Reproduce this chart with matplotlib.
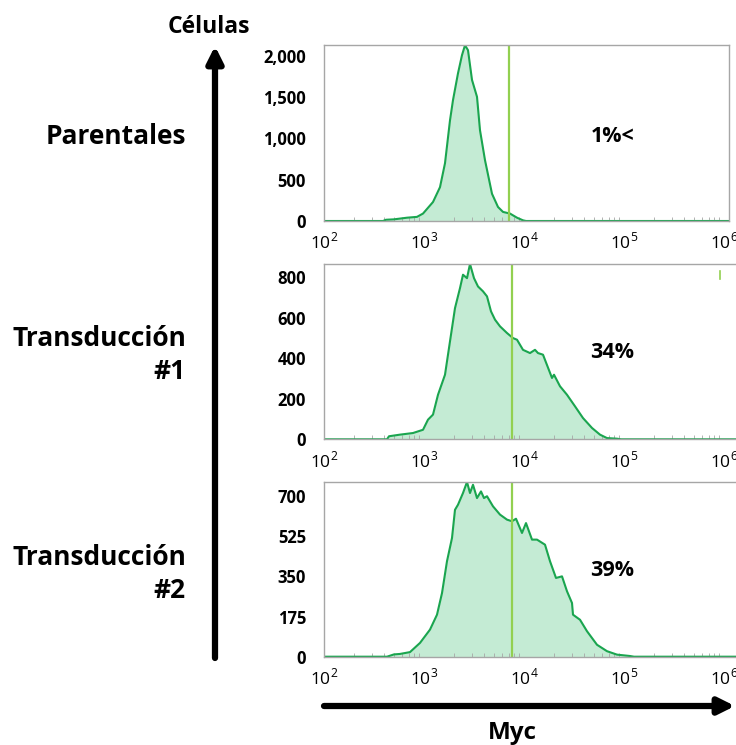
import matplotlib.pyplot as plt
import numpy as np

plt.rcParams['font.family'] = ['Open Sans', 'DejaVu Sans']
plt.rcParams['mathtext.fontset'] = 'custom'
plt.rcParams['mathtext.rm'] = 'Open Sans'
plt.rcParams['mathtext.bf'] = 'Open Sans:bold'

LINE = '#1aa54f'
FILL = '#c4ebd4'
GATE = '#92d050'
FRAME = '#a6a6a6'

# histogramas de Myc (log10 de la intensidad, número de células)
parental_log = [2.0, 2.59, 2.62, 2.7, 2.83, 2.93, 2.99, 3.09, 3.16, 3.21, 3.26, 3.29, 3.34,
                3.38, 3.41, 3.44, 3.48, 3.53, 3.56, 3.61, 3.68, 3.74, 3.79, 3.86, 3.93,
                3.99, 4.02, 6.1]
parental_cnt = [0, 0, 15, 20, 40, 50, 90, 230, 410, 700, 1220, 1465, 1790,
                2010, 2130, 2070, 1710, 1505, 1100, 737, 330, 170, 110, 90, 40,
                8, 0, 0]

trans1_log = [2.0, 2.63, 2.65, 2.76, 2.89, 2.99, 3.04, 3.09, 3.14, 3.21, 3.26, 3.31, 3.36,
              3.39, 3.43, 3.46, 3.5, 3.54, 3.59, 3.63, 3.67, 3.71, 3.76, 3.83, 3.89,
              3.93, 3.99, 4.06, 4.11, 4.14, 4.19, 4.28, 4.3, 4.36, 4.43, 4.51, 4.59,
              4.68, 4.76, 4.83, 4.93, 4.97, 6.2]
trans1_cnt = [0, 0, 15, 23, 31, 47, 97, 122, 220, 319, 484, 648, 747,
              813, 796, 866, 796, 755, 731, 706, 632, 591, 558, 525, 500,
              492, 442, 426, 442, 426, 418, 303, 319, 262, 220, 163, 105,
              56, 23, 6, 3, 0, 0]

trans2_log = [2.0, 2.63, 2.7, 2.76, 2.86, 2.96, 3.06, 3.13, 3.18, 3.23, 3.28, 3.31, 3.34,
              3.39, 3.43, 3.46, 3.49, 3.53, 3.57, 3.6, 3.63, 3.69, 3.76, 3.83, 3.88,
              3.92, 3.98, 4.02, 4.08, 4.13, 4.21, 4.26, 4.32, 4.38, 4.43, 4.48, 4.49,
              4.56, 4.63, 4.73, 4.83, 4.93, 5.06, 5.1, 6.2]
trans2_cnt = [0, 0, 10, 12, 20, 60, 118, 183, 277, 416, 517, 640, 662,
              713, 761, 713, 749, 691, 720, 691, 699, 655, 619, 597, 590,
              601, 539, 582, 510, 510, 488, 416, 343, 350, 285, 234, 183,
              161, 111, 52, 24, 9, 3, 0, 0]

gates = [7030, 7640, 7640]
percents = ['1%<', '34%', '39%']
y_max = [2133, 866, 761]
y_ticks = [[0, 500, 1000, 1500, 2000], [0, 200, 400, 600, 800], [0, 175, 350, 525, 700]]
row_labels = ['Parentales', 'Transducción\n#1', 'Transducción\n#2']

# marca suelta en el segundo histograma
stray_x = [9.1e5, 9.1e5]
stray_y = [790, 830]

W, H = 736, 745
fig = plt.figure(figsize=(W / 100, H / 100), dpi=100)

# capa en píxeles para flechas y rótulos, por encima de los paneles
bg = fig.add_axes([0, 0, 1, 1])
bg.set_xlim(0, W)
bg.set_ylim(H, 0)
bg.axis('off')
bg.set_zorder(10)

panels = [(324, 45, 729, 221), (324, 264, 740, 439.3), (324, 482, 740, 656.7)]
series = [(parental_log, parental_cnt), (trans1_log, trans1_cnt), (trans2_log, trans2_cnt)]
pct_pos = [(613, 137), (612, 353), (612, 570)]

for i, (x0, y0, x1, y1) in enumerate(panels):
    ax = fig.add_axes([x0 / W, 1 - y1 / H, (x1 - x0) / W, (y1 - y0) / H])
    lx, cnt = series[i]
    x = 10 ** np.array(lx)
    ax.fill_between(x, cnt, 0, color=FILL, lw=0)
    ax.plot(x, cnt, color=LINE, lw=1.5)
    ax.axvline(gates[i], color=GATE, lw=1.6)
    ax.set_xscale('log')
    ax.set_xlim(1e2, 10 ** (2 + (x1 - x0) / 100))
    ax.set_ylim(0, y_max[i])
    ax.set_xticks([1e2, 1e3, 1e4, 1e5, 1e6])
    ax.set_xticklabels([r'$10^{%d}$' % e for e in range(2, 7)], fontsize=12.5)
    ax.set_yticks(y_ticks[i])
    ax.set_yticklabels(['{:,}'.format(v) for v in y_ticks[i]], fontsize=12, fontweight='bold')
    ax.tick_params(axis='x', which='major', length=0, pad=8)
    ax.tick_params(axis='y', which='major', length=0, pad=13)
    ax.tick_params(axis='x', which='minor', direction='in', length=3, color=FRAME, width=0.6)
    for s in ax.spines.values():
        s.set_color(FRAME)
        s.set_linewidth(1)
    if i == 1:
        ax.plot(stray_x, stray_y, color=GATE, lw=1.2)
    bg.text(*pct_pos[i], percents[i], ha='center', va='center', fontsize=15.5, fontweight='bold')

# rótulos de cada fila
label_y = [137, 355, 574]
for lab, yy in zip(row_labels, label_y):
    bg.text(186, yy, lab, ha='right', va='center', fontsize=19, fontweight='bold', linespacing=1.3)

# eje de células
bg.annotate('', xy=(215, 46), xytext=(215, 658), annotation_clip=False,
            arrowprops=dict(arrowstyle='-|>', lw=4.5, color='black', mutation_scale=24, shrinkA=0, shrinkB=0))
bg.text(209, 27, 'Células', ha='center', va='center', fontsize=16.5, fontweight='bold')

# eje de Myc
bg.annotate('', xy=(735, 706), xytext=(324, 706), annotation_clip=False,
            arrowprops=dict(arrowstyle='-|>', lw=4.5, color='black', mutation_scale=24, shrinkA=0, shrinkB=0))
bg.text(512, 733, 'Myc', ha='center', va='center', fontsize=17.5, fontweight='bold')

fig.savefig('out.png', dpi=100)
